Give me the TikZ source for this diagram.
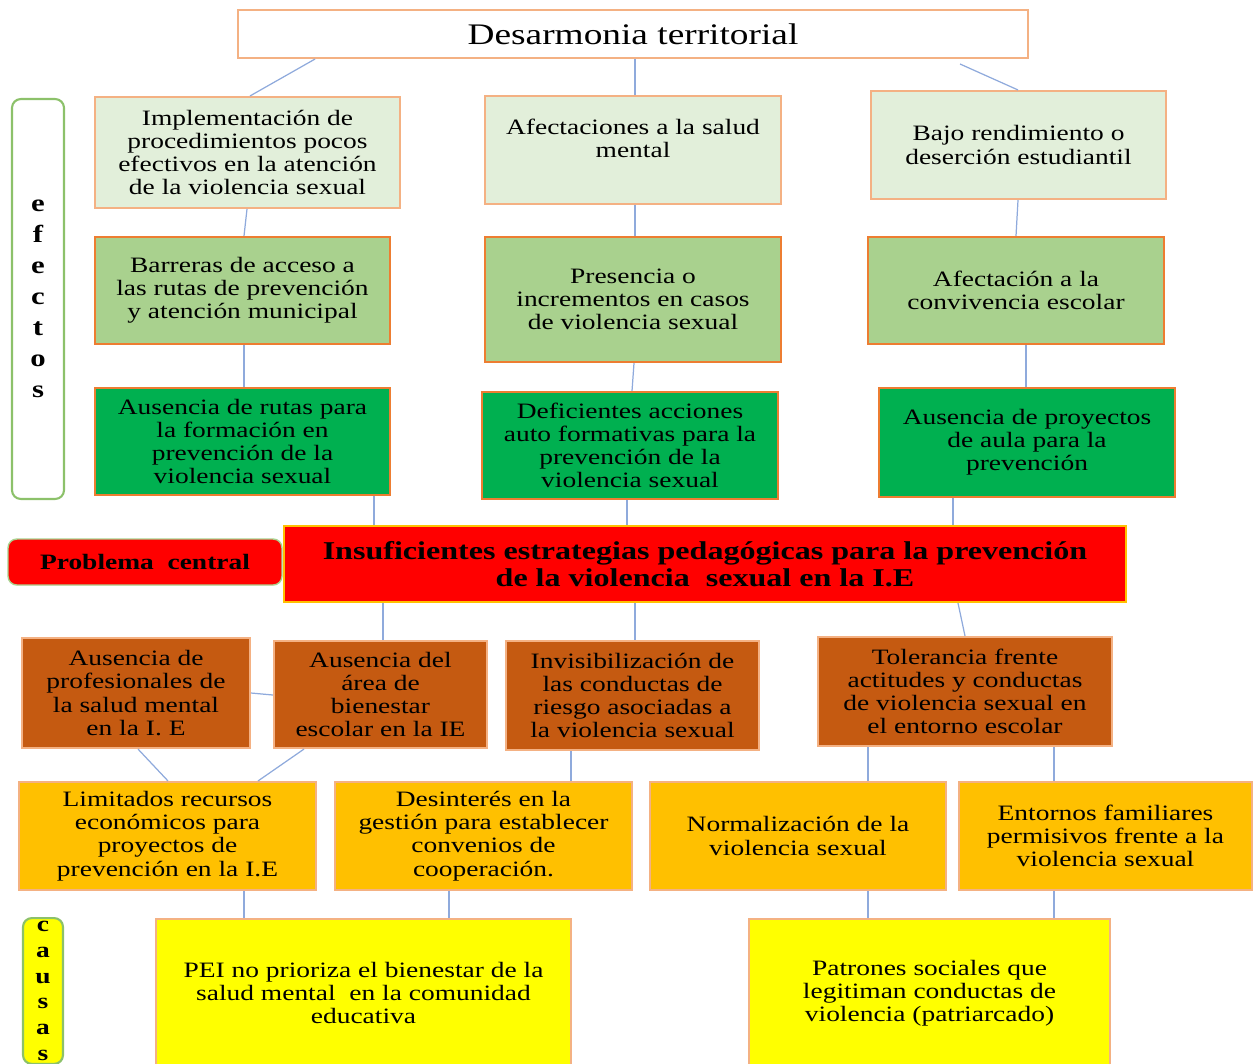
\documentclass[tikz,border=0pt]{standalone}
\usepackage{fontspec}
\setmainfont{Liberation Serif}[FakeStretch=1.25]
\definecolor{efecLight}{HTML}{E2EFDA}
\definecolor{efecMid}{HTML}{A9D18E}
\definecolor{efecDark}{HTML}{00B050}
\definecolor{causaBrown}{HTML}{C55A11}
\definecolor{causaOrange}{HTML}{FFC000}
\definecolor{causaYellow}{HTML}{FFFF00}
\definecolor{lineOrange}{HTML}{ED7D31}
\definecolor{lineSoft}{HTML}{F4B183}
\definecolor{lineGreen}{HTML}{8CC16A}
\definecolor{linkBlue}{HTML}{8FAADC}
\tikzset{
  box/.style={draw=lineOrange, line width=1.2pt, align=center, inner sep=2pt,
    font=\fontsize{12.5}{13.2}\selectfont},
  efecA/.style={box, fill=efecLight, draw=lineSoft},
  efecB/.style={box, fill=efecMid},
  efecC/.style={box, fill=efecDark},
  causaA/.style={box, fill=causaBrown, draw=lineSoft},
  causaB/.style={box, fill=causaOrange, draw=lineSoft},
  causaC/.style={box, fill=causaYellow, draw=lineSoft},
  side/.style={draw=lineGreen, line width=1.2pt, rounded corners=5pt, align=center,
    font=\fontsize{14}{17.6}\selectfont\bfseries},
  link/.style={draw=linkBlue, line width=0.7pt}
}
\begin{document}
\begin{tikzpicture}[x=0.02cm, y=-0.02cm]
  \useasboundingbox (0,0) rectangle (1253,1063);
  \clip (0,0) rectangle (1253,1063);
  % top
  \node (top) at (633,34) [box, draw=lineSoft, fill=white, minimum width=15.8cm, minimum height=0.96cm,
    font=\fontsize{17}{18}\selectfont] {Desarmonia territorial};
  % efectos
  \node (efectos) at (38,299) [side, fill=white, minimum width=1.04cm, minimum height=8cm] {e\\f\\e\\c\\t\\o\\s};
  \node (e1) at (247.5,152.5) [efecA, minimum width=6.1cm, minimum height=2.22cm]
    {Implementación de\\procedimientos pocos\\efectivos en la atención\\de la violencia sexual};
  \node (e2) at (633,150) [efecA, minimum width=5.92cm, minimum height=2.16cm]
    {Afectaciones a la salud\\mental\\\mbox{}};
  \node (e3) at (1018.5,145) [efecA, minimum width=5.9cm, minimum height=2.16cm]
    {Bajo rendimiento o\\deserción estudiantil};
  \node (r2a) at (242.5,290.5) [efecB, minimum width=5.9cm, minimum height=2.14cm]
    {Barreras de acceso a\\las rutas de prevención\\y atención municipal};
  \node (r2b) at (633,299.5) [efecB, minimum width=5.92cm, minimum height=2.5cm]
    {Presencia o\\incrementos en casos\\de violencia sexual};
  \node (r2c) at (1016,290.5) [efecB, minimum width=5.92cm, minimum height=2.14cm]
    {Afectación a la\\convivencia escolar};
  \node (r3a) at (242.5,441.5) [efecC, minimum width=5.9cm, minimum height=2.14cm]
    {Ausencia de rutas para\\la formación en\\prevención de la\\violencia sexual};
  \node (r3b) at (630,445.5) [efecC, minimum width=5.92cm, minimum height=2.14cm]
    {Deficientes acciones\\auto formativas para la\\prevención de la\\violencia sexual};
  \node (r3c) at (1027,442.5) [efecC, minimum width=5.92cm, minimum height=2.18cm]
    {Ausencia de proyectos\\de aula para la\\prevención};
  % problema central
  \node (label) at (145,562) [side, draw=efecMid, line width=0.8pt, fill=red, minimum width=5.48cm, minimum height=0.92cm,
    font=\fontsize{12.5}{14}\selectfont\bfseries] {Problema\ \ central};
  \node (central) at (705,564) [box, draw=causaOrange, fill=red, minimum width=16.84cm, minimum height=1.52cm,
    font=\fontsize{14.6}{15.6}\selectfont\bfseries]
    {Insuficientes estrategias pedagógicas para la prevención\\de la violencia\ \ sexual en la I.E};
  % causas
  \node (c1a) at (136,693) [causaA, minimum width=4.56cm, minimum height=2.2cm]
    {Ausencia de\\profesionales de\\la salud mental\\en la I. E};
  \node (c1b) at (380.5,694.5) [causaA, minimum width=4.26cm, minimum height=2.14cm]
    {Ausencia del\\área de\\bienestar\\escolar en la IE};
  \node (c1c) at (632.5,695.5) [causaA, minimum width=5.06cm, minimum height=2.18cm]
    {Invisibilización de\\las conductas de\\riesgo asociadas a\\la violencia sexual};
  \node (c1d) at (965,691.5) [causaA, minimum width=5.88cm, minimum height=2.18cm]
    {Tolerancia frente\\actitudes y conductas\\de violencia sexual en\\el entorno escolar};
  \node (c2a) at (167.5,836) [causaB, minimum width=5.94cm, minimum height=2.16cm]
    {Limitados recursos\\económicos para\\proyectos de\\prevención en la I.E};
  \node (c2b) at (483.5,836) [causaB, minimum width=5.94cm, minimum height=2.16cm]
    {Desinterés en la\\gestión para establecer\\convenios de\\cooperación.};
  \node (c2c) at (798,836) [causaB, minimum width=5.92cm, minimum height=2.16cm]
    {Normalización de la\\violencia sexual};
  \node (c2d) at (1105.5,836) [causaB, minimum width=5.87cm, minimum height=2.16cm]
    {Entornos familiares\\permisivos frente a la\\violencia sexual};
  \node (c3a) at (363.5,993) [causaC, minimum width=8.3cm, minimum height=2.96cm]
    {PEI no prioriza el bienestar de la\\salud mental\ \ en la comunidad\\educativa};
  \node (c3b) at (929.5,993) [causaC, minimum width=7.22cm, minimum height=2.96cm]
    {Patrones sociales que\\legitiman conductas de\\violencia (patriarcado)};
  \node (causas) at (43,917) [side, anchor=north, fill=causaYellow, minimum width=0.8cm, inner ysep=2pt,
    font=\fontsize{12.5}{14.6}\selectfont\bfseries] {c\\a\\u\\s\\a\\s};
  % connectors
  \draw[link] (top.south -| 315,0) -- (e1.north -| 250,0);
  \draw[link] (top.south -| 635,0) -- (e2.north -| 635,0);
  \draw[link] (960,64) -- (e3.north -| 1018,0);
  \draw[link] (e1.south -| 247,0) -- (r2a.north -| 244,0);
  \draw[link] (e2.south -| 635,0) -- (r2b.north -| 635,0);
  \draw[link] (e3.south -| 1018,0) -- (r2c.north -| 1016,0);
  \draw[link] (r2a.south -| 244,0) -- (r3a.north -| 244,0);
  \draw[link] (r2b.south -| 634,0) -- (r3b.north -| 632,0);
  \draw[link] (r2c.south -| 1026,0) -- (r3c.north -| 1026,0);
  \draw[link] (r3a.south -| 374,0) -- (central.north -| 374,0);
  \draw[link] (r3b.south -| 627,0) -- (central.north -| 627,0);
  \draw[link] (r3c.south -| 953,0) -- (central.north -| 953,0);
  \draw[link] (central.south -| 383,0) -- (c1b.north -| 383,0);
  \draw[link] (central.south -| 635,0) -- (c1c.north -| 635,0);
  \draw[link] (central.south -| 958,0) -- (c1d.north -| 965,0);
  \draw[link] (c1a.east |- 0,693) -- (c1b.west |- 0,695);
  \draw[link] (c1a.south -| 138,0) -- (c2a.north -| 168,0);
  \draw[link] (c1b.south -| 304,0) -- (c2a.north -| 258,0);
  \draw[link] (c1c.south -| 571,0) -- (c2b.north -| 571,0);
  \draw[link] (c1d.south -| 868,0) -- (c2c.north -| 868,0);
  \draw[link] (c1d.south -| 1054,0) -- (c2d.north -| 1054,0);
  \draw[link] (c2a.south -| 244,0) -- (c3a.north -| 244,0);
  \draw[link] (c2b.south -| 449,0) -- (c3a.north -| 449,0);
  \draw[link] (c2c.south -| 868,0) -- (c3b.north -| 868,0);
  \draw[link] (c2d.south -| 1054,0) -- (c3b.north -| 1054,0);
\end{tikzpicture}
\end{document}
